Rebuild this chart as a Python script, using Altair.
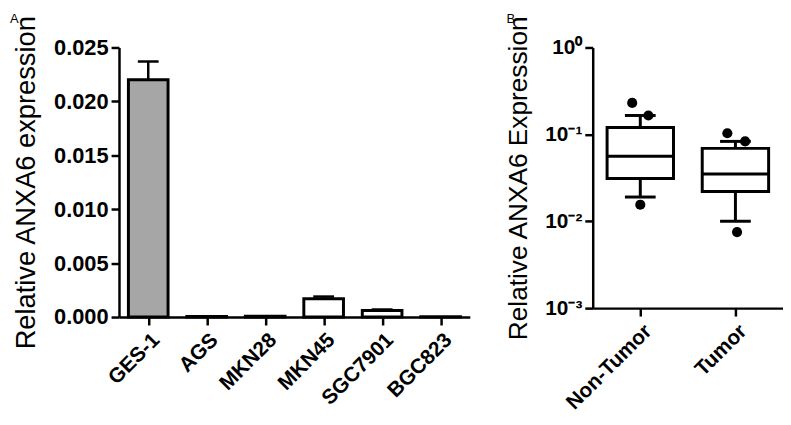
import altair as alt
import pandas as pd
import json

# Panel A data
cell_lines = ["GES-1", "AGS", "MKN28", "MKN45", "SGC7901", "BGC823"]
means = [0.0220, 0.00005, 0.00008, 0.0017, 0.0006, 0.00002]
sems = [0.0017, 0.0, 0.0, 0.0002, 0.0001, 0.0]
fill_colors = ["#a6a6a6", "white", "white", "white", "white", "white"]

# Panel B data (box summaries)
groups = ["Non-Tumor", "Tumor"]
q1 = [0.031, 0.022]
median = [0.056, 0.035]
q3 = [0.12, 0.069]
w_low = [0.019, 0.010]
w_high = [0.165, 0.083]
out_group = ["Non-Tumor", "Non-Tumor", "Non-Tumor", "Tumor", "Tumor", "Tumor"]
out_value = [0.23, 0.165, 0.0155, 0.103, 0.083, 0.0075]
out_jitter = [-1, 1, 0, -1, 1.2, 0.2]

FONT = "Liberation Sans"

dfa = pd.DataFrame({"cell": cell_lines, "mean": means, "sem": sems,
                    "idx": list(range(len(cell_lines)))})
dfa["top"] = dfa["mean"] + dfa["sem"]
dfb = pd.DataFrame({"group": groups, "q1": q1, "median": median, "q3": q3,
                    "lo": w_low, "hi": w_high, "idx": list(range(len(groups)))})
dfo = pd.DataFrame({"group": out_group, "value": out_value, "jit": out_jitter,
                    "idx": [groups.index(g) for g in out_group]})

# ---------- Panel A ----------
xa_scale = alt.Scale(domain=[-0.5, len(cell_lines) - 0.5], nice=False, zero=False, padding=0)
xa_axis = alt.Axis(values=list(range(len(cell_lines))),
                   labelExpr=json.dumps(cell_lines) + "[datum.value]",
                   labelAngle=-45, labelAlign="right", labelBaseline="top",
                   labelFontSize=21, labelFontWeight="bold", labelOverlap=False,
                   tickSize=8, labelPadding=4, grid=False)
ya_scale = alt.Scale(domain=[0, 0.025], nice=False, padding=0, zero=True)
ya_axis = alt.Axis(values=[0, 0.005, 0.01, 0.015, 0.02, 0.025], format=".3f",
                   labelFontSize=22, labelFontWeight="bold", tickSize=8, labelOverlap=False,
                   labelPadding=3, titleFontSize=27.5, titleFontWeight="normal",
                   titlePadding=13, grid=False)

base_a = alt.Chart(dfa)
bars = base_a.mark_bar(stroke="black", strokeWidth=3, size=40).encode(
    x=alt.X("idx:Q", scale=xa_scale, axis=xa_axis, title=None),
    y=alt.Y("mean:Q", scale=ya_scale, title="Relative ANXA6 expression", axis=ya_axis),
    fill=alt.Fill("cell:N", scale=alt.Scale(domain=cell_lines, range=fill_colors), legend=None),
)
err = base_a.transform_filter("datum.sem > 0").mark_rule(color="black", strokeWidth=2.5).encode(
    x=alt.X("idx:Q", scale=xa_scale), y=alt.Y("mean:Q", scale=ya_scale), y2="top:Q")
cap = base_a.transform_filter("datum.sem > 0").mark_tick(
    color="black", opacity=1, thickness=2.5, size=21, orient="horizontal").encode(
    x=alt.X("idx:Q", scale=xa_scale), y=alt.Y("top:Q", scale=ya_scale))
label_a = alt.Chart(pd.DataFrame({"t": ["A"]})).mark_text(
    font=FONT, fontSize=13, align="left", baseline="top").encode(
    text="t:N", x=alt.value(-110), y=alt.value(-35))
panel_a = alt.layer(bars, err, cap, label_a).properties(width=354, height=272)

# ---------- Panel B ----------
xb_scale = alt.Scale(domain=[-0.5, len(groups) - 0.5], nice=False, zero=False, padding=0)
xb_axis = alt.Axis(values=list(range(len(groups))),
                   labelExpr=json.dumps(groups) + "[datum.value]",
                   labelAngle=-45, labelAlign="right", labelBaseline="top",
                   labelFontSize=21, labelFontWeight="bold", labelOverlap=False,
                   tickSize=8, labelPadding=4, grid=False)
yb_scale = alt.Scale(type="log", domain=[0.001, 1], nice=False, padding=0)
label_expr = ("'10' + (datum.value >= 1 ? '\u2070' : datum.value >= 0.1 ? '\u207b\u00b9' : "
              "datum.value >= 0.01 ? '\u207b\u00b2' : '\u207b\u00b3')")
yb_axis = alt.Axis(values=[0.001, 0.01, 0.1, 1], labelExpr=label_expr,
                   labelFontSize=21, labelFontWeight="bold", tickSize=8, labelOverlap=False,
                   labelPadding=3, titleFontSize=26.5, titleFontWeight="normal",
                   titlePadding=12, grid=False)

base_b = alt.Chart(dfb)
xq = alt.X("idx:Q", scale=xb_scale)
box = base_b.mark_bar(fill="white", stroke="black", strokeWidth=3, size=67).encode(
    x=alt.X("idx:Q", scale=xb_scale, axis=xb_axis, title=None),
    y=alt.Y("q1:Q", scale=yb_scale, title="Relative ANXA6 Expression", axis=yb_axis),
    y2="q3:Q")
wl = base_b.mark_rule(color="black", strokeWidth=3).encode(
    x=xq, y=alt.Y("lo:Q", scale=yb_scale), y2="q1:Q")
wh = base_b.mark_rule(color="black", strokeWidth=3).encode(
    x=xq, y=alt.Y("q3:Q", scale=yb_scale), y2="hi:Q")
med = base_b.mark_tick(color="black", opacity=1, thickness=3, size=67, orient="horizontal").encode(
    x=xq, y=alt.Y("median:Q", scale=yb_scale))
caplo = base_b.mark_tick(color="black", opacity=1, thickness=3, size=31, orient="horizontal").encode(
    x=xq, y=alt.Y("lo:Q", scale=yb_scale))
caphi = base_b.mark_tick(color="black", opacity=1, thickness=3, size=31, orient="horizontal").encode(
    x=xq, y=alt.Y("hi:Q", scale=yb_scale))
pts = alt.Chart(dfo).transform_calculate(xj="datum.idx + datum.jit * 0.085").mark_circle(
    color="black", opacity=1, size=105).encode(
    x=alt.X("xj:Q", scale=xb_scale),
    y=alt.Y("value:Q", scale=yb_scale))
label_b = alt.Chart(pd.DataFrame({"t": ["B"]})).mark_text(
    font=FONT, fontSize=13, align="left", baseline="top").encode(
    text="t:N", x=alt.value(-87), y=alt.value(-35))
panel_b = alt.layer(box, wl, wh, med, caplo, caphi, pts, label_b).properties(width=192, height=263)

chart = alt.hconcat(panel_a, panel_b, spacing=36).configure_view(stroke=None).configure_axis(
    grid=False, domainColor="black", tickColor="black", domainWidth=2.5, tickWidth=2.5,
    labelColor="black", titleColor="black", labelFont=FONT, titleFont=FONT
).properties(padding={"left": 2, "top": 3, "right": 0, "bottom": 0}, background="white")

chart.save("out.html", embed_options={"renderer": "svg", "actions": False})
